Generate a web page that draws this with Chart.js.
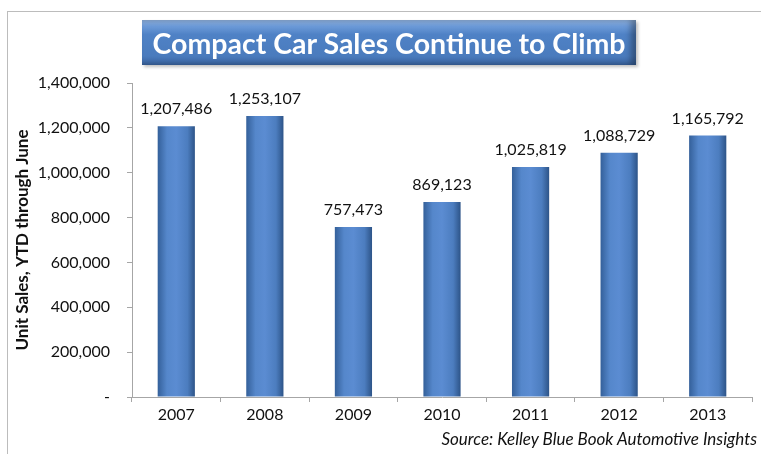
<!DOCTYPE html>
<html>
<head>
<meta charset="utf-8">
<script src="https://cdn.jsdelivr.net/npm/chart.js@4"></script>
<style>
    html, body { margin: 0; padding: 0; background: #fff; }
    #wrap { position: relative; width: 761px; height: 454px; overflow: hidden; }
    #frame {
        position: absolute; left: 7px; top: 11px; width: 800px; height: 500px;
        border-left: 1px solid #bcbcbc; border-top: 1px solid #bcbcbc;
    }
    #title {
        position: absolute; left: 142px; top: 20px; width: 494px; height: 45px;
        background: linear-gradient(to bottom, #93b7e6 0%, #6c9ad8 14%, #4f82c6 32%, #4a7bbd 80%, #3b66a3 100%);
        box-shadow: inset -5px 0 6px rgba(0, 0, 0, 0.35), 2px 2px 3px rgba(0, 0, 0, 0.25);
        color: #fff; font: bold 28.5px Lato, sans-serif; text-align: center; line-height: 46px;
        white-space: nowrap;
    }
    #source {
        position: absolute; right: 4px; top: 428px;
        font: italic 17px Lato, sans-serif; color: #111;
    }
    canvas { position: absolute; left: 0; top: 0; }
</style>
</head>
<body>
<div id="wrap">
    <div id="frame"></div>
    <canvas id="salesChart" width="761" height="454"></canvas>
    <div id="title">Compact Car Sales Continue to Climb</div>
    <div id="source">Source: Kelley Blue Book Automotive Insights</div>
</div>
<script>
// Chart data
const years = ["2007", "2008", "2009", "2010", "2011", "2012", "2013"];
const unitSales = [1207486, 1253107, 757473, 869123, 1025819, 1088729, 1165792];
const yTicks = [0, 200000, 400000, 600000, 800000, 1000000, 1200000, 1400000];

const BAR_PCT = 0.42;

function fmt(v) {
    if (v === 0) return "-";
    return v.toLocaleString("en-US");
}

// Horizontal shading for each column
function barGradient(ctx) {
    const chart = ctx.chart;
    const x = chart.scales.x;
    if (!x || ctx.dataIndex === undefined) return "#4f81bd";
    const cx = x.getPixelForValue(ctx.dataIndex);
    const w = (x.width / years.length) * BAR_PCT;
    if (!isFinite(cx) || !isFinite(w) || w <= 0) return "#4f81bd";
    const g = chart.ctx.createLinearGradient(cx - w / 2, 0, cx + w / 2, 0);
    g.addColorStop(0, "#34609a");
    g.addColorStop(0.25, "#5587cb");
    g.addColorStop(0.5, "#5b8cd2");
    g.addColorStop(0.8, "#4c7dbf");
    g.addColorStop(1, "#2d5488");
    return g;
}

// Value labels above the bars
const valueLabels = {
    id: "valueLabels",
    afterDatasetsDraw(chart) {
        const ctx = chart.ctx;
        const meta = chart.getDatasetMeta(0);
        ctx.save();
        ctx.font = "16px Lato, sans-serif";
        ctx.fillStyle = "#111";
        ctx.textAlign = "center";
        ctx.textBaseline = "bottom";
        meta.data.forEach((bar, i) => {
            ctx.fillText(fmt(unitSales[i]), bar.x, bar.y - 9);
        });
        ctx.restore();
    }
};

new Chart(document.getElementById("salesChart"), {
    type: "bar",
    data: {
        labels: years,
        datasets: [{
            label: "Unit Sales",
            data: unitSales,
            backgroundColor: barGradient,
            borderWidth: 0,
            barPercentage: BAR_PCT,
            categoryPercentage: 1
        }]
    },
    options: {
        responsive: false,
        animation: false,
        layout: { padding: { left: 12, top: 83, right: 9, bottom: 0 } },
        plugins: {
            legend: { display: false },
            tooltip: { enabled: false }
        },
        scales: {
            y: {
                min: 0,
                max: 1400000,
                afterFit(scale) { scale.width = 120; },
                afterBuildTicks(scale) { scale.ticks = yTicks.map(v => ({ value: v })); },
                border: { color: "#a6a6a6", width: 1 },
                grid: { drawOnChartArea: false, tickLength: 5, color: "#a6a6a6" },
                ticks: {
                    color: "#111",
                    font: { family: "Lato", size: 16 },
                    padding: 17,
                    callback: v => fmt(v)
                },
                title: {
                    display: true,
                    text: "Unit Sales, YTD through June",
                    color: "#111",
                    font: { family: "Lato", size: 17, weight: "bold" },
                    padding: { top: 0, bottom: 0 }
                }
            },
            x: {
                afterFit(scale) { scale.height = 57; },
                border: { color: "#a6a6a6", width: 1 },
                grid: { offset: true, drawOnChartArea: false, tickLength: 5, color: "#a6a6a6" },
                ticks: {
                    color: "#111",
                    font: { family: "Lato", size: 16 },
                    padding: 3
                }
            }
        }
    },
    plugins: [valueLabels]
});
</script>
</body>
</html>
